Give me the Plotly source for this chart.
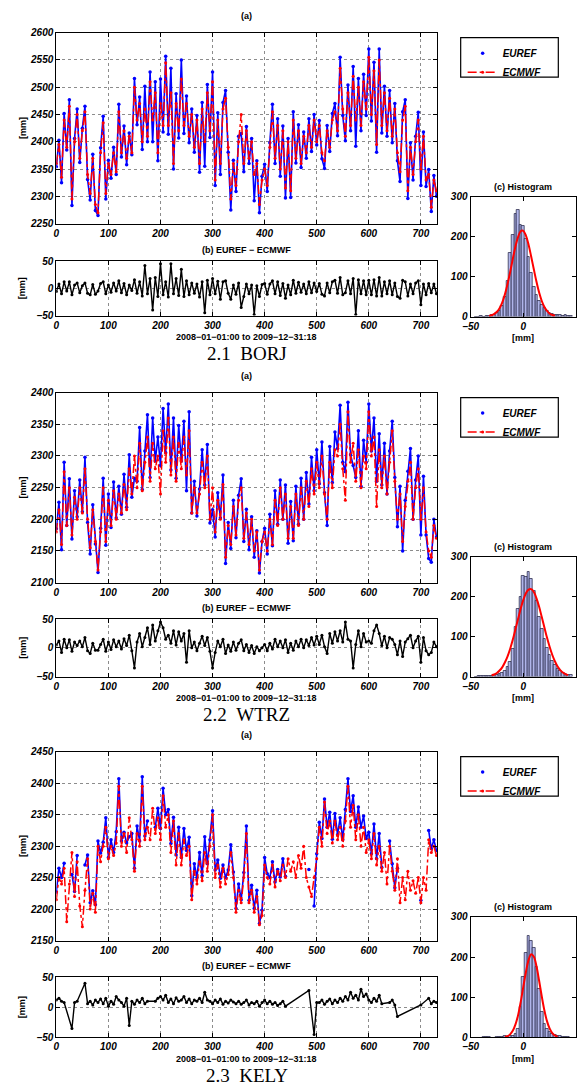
import plotly.graph_objects as go

W, H = 581, 1088
STEP = 5  # days between readings

TIME_LABEL = "2008\u221201\u221201:00 to 2009\u221212\u221231:18"
X_TICKS = [0, 100, 200, 300, 400, 500, 600, 700]
DIFF_TICKS = [-50, 0, 50]
HIST_TICKS_X = [-50, 0, 50]
HIST_TICKS_Y = [0, 100, 200, 300]

# ---------------- BORJ ----------------
borj_ecmwf = [
    2360, 2395, 2335, 2440, 2390, 2465, 2295, 2400, 2450, 2370,
    2420, 2455, 2340, 2305, 2370, 2285, 2270, 2380, 2435, 2305,
    2360, 2340, 2380, 2345, 2455, 2380, 2420, 2370, 2410, 2380,
    2500, 2440, 2470, 2400, 2460, 2410, 2510, 2440, 2490, 2380,
    2470, 2430, 2545, 2430, 2490, 2360, 2470, 2420, 2515, 2430,
    2470, 2410, 2450, 2390, 2440, 2360, 2460, 2400, 2490, 2420,
    2510, 2330, 2440, 2360, 2460, 2480, 2390, 2295, 2360, 2320,
    2400, 2450, 2360, 2420, 2370, 2400, 2340, 2360, 2285, 2330,
    2350, 2320, 2390, 2455, 2370, 2430, 2350, 2420, 2315, 2400,
    2310, 2440, 2370, 2420, 2360, 2410, 2380, 2430, 2390, 2440,
    2400, 2430, 2380, 2365, 2420, 2390, 2440, 2455, 2420, 2535,
    2460, 2410, 2490, 2430, 2520, 2440, 2500, 2430, 2510, 2460,
    2555, 2450, 2530, 2395, 2550, 2430, 2490, 2420, 2480, 2410,
    2460, 2380, 2345, 2440, 2465, 2310, 2390, 2340, 2400, 2440,
    2350, 2410, 2330, 2340, 2280, 2330, 2310,
]
borj_diff = [
    -6, 8, -10, 12, -5, 12, -12, 6, 10, -8,
    5, 10, -9, -12, 7, -11, -5, 9, 12, -10,
    6, -7, 10, -5, 14, -8, 9, -12, 6, -4,
    16, -9, 12, -14, 42, -10, 18, -40, 20, -15,
    45, -12, 12, -16, 45, -10, 18, -13, 35, -15,
    14, -12, 10, -9, 8, -16, 12, -45, 15, -12,
    18, -10, 13, -20, 12, 14, -9, -20, 6, -11,
    10, -35, -15, 8, -10, 6, -48, 5, -15, 7,
    9, -11, 8, 14, -10, 12, -13, 9, -18, 6,
    -12, 15, -9, 11, -7, 8, -10, 12, -8, 10,
    -6, 9, -11, -14, 10, -8, 12, 15, -9, 20,
    -12, -8, 14, -10, 18, -48, 16, -10, 14, -12,
    15, -12, 16, -14, 20, -14, 12, -10, 14, -12,
    10, -15, -18, 15, 12, -14, 8, -10, 10, 14,
    -30, 8, -12, 9, -8, 8, -10,
]
borj_hist = [
    0, 0, 1, 0, 1, 2, 3, 5, 8, 15,
    28, 50, 90, 160, 205, 258, 268, 230, 228, 195,
    150, 110, 75, 55, 40, 30, 22, 15, 10, 7,
    5, 4, 3, 2, 3, 2, 1,
]
borj_fit_x = [-32.5, -30, -27.5, -25, -22.5, -20, -17.5, -15, -12.5, -10, -7.5, -5, -2.5,
              0, 2.5, 5, 7.5, 10, 12.5, 15, 17.5, 20, 22.5, 25, 27.5, 30]
borj_fit_y = [1.5, 3.2, 6.5, 12, 21, 35, 55, 81, 111, 144, 175, 199, 214,
              215, 203, 180, 150, 118, 87, 60, 39, 24, 14, 7, 4, 2]

# ---------------- WTRZ ----------------
wtrz_ecmwf = [
    2180, 2215, 2160, 2275, 2190, 2250, 2175, 2235, 2200, 2250,
    2210, 2280, 2200, 2155, 2215, 2165, 2120, 2180, 2250, 2165,
    2230, 2190, 2245, 2200, 2240, 2210, 2255, 2215, 2280, 2240,
    2300, 2250, 2320, 2245, 2290, 2330, 2260, 2320, 2280, 2300,
    2240, 2340, 2290, 2360, 2270, 2330, 2260, 2320, 2280, 2330,
    2270, 2340, 2210, 2250, 2210, 2240, 2290, 2250, 2300, 2200,
    2250, 2180, 2230, 2200, 2255, 2140, 2190, 2160, 2220, 2175,
    2230, 2250, 2170, 2210, 2160, 2200, 2150, 2180, 2120, 2165,
    2180, 2150, 2200, 2160, 2230, 2190, 2250, 2200, 2240, 2170,
    2220, 2170, 2240, 2190, 2250, 2200, 2260, 2220, 2280, 2240,
    2290, 2250, 2300, 2240, 2200, 2290, 2250, 2310, 2300, 2350,
    2280, 2230, 2370, 2290, 2320, 2260, 2310, 2250, 2300, 2280,
    2370, 2300, 2330, 2220, 2310, 2250, 2300, 2240, 2290, 2340,
    2260, 2200, 2240, 2165, 2220, 2260, 2290, 2200, 2250, 2280,
    2200, 2250, 2180, 2150, 2140, 2190, 2170,
]
wtrz_diff = [
    5, 12, -8, 15, 0, 14, -6, 10, 4, 12,
    2, 18, -5, -10, 8, -4, -4, 6, 15, -6,
    10, -3, 14, 2, 12, -2, 16, 4, 22, -5,
    -35, 10, 25, 2, 18, 35, 6, 40, 12, 30,
    45, 35, 15, 22, 8, 30, 5, 28, 12, 25,
    -25, 30, 0, 10, -5, 8, 20, 4, 18, -6,
    -35, -8, 12, 2, 15, -10, 5, -6, 10, -4,
    8, 14, -5, 6, -8, 4, -10, 2, -5, 0,
    6, -5, 8, -2, 15, 2, 12, 0, 14, -8,
    8, -4, 12, 2, 15, 0, 14, 4, 18, 5,
    20, 6, 22, 2, -10, 25, 8, 28, 12, 30,
    10, 45, 15, 12, -35, 6, 30, 2, 25, 10,
    12, 8, 30, 40, 25, 4, 20, 0, 18, 15,
    6, -12, 12, -15, 10, 16, 22, 0, 12, 20,
    -25, 18, -5, -12, -8, 10, 2,
]
wtrz_hist = [
    0, 1, 1, 1, 2, 1, 2, 3, 4, 6,
    9, 15, 25, 38, 70, 125, 170, 200, 252, 250,
    262, 245, 215, 190, 150, 120, 95, 72, 55, 40,
    30, 20, 14, 9, 7, 5, 4,
]
wtrz_fit_x = [-30, -27.5, -25, -22.5, -20, -17.5, -15, -12.5, -10, -7.5, -5, -2.5, 0,
              2.5, 5, 7.5, 10, 12.5, 15, 17.5, 20, 22.5, 25, 27.5, 30, 32.5, 35,
              37.5, 40, 42.5]
wtrz_fit_y = [3, 5, 9, 15, 23, 35, 50, 69, 92, 118, 144, 170, 192,
              209, 218, 219, 212, 196, 175, 149, 123, 97, 74, 54, 38, 25, 16,
              10, 6, 3.5]

# ---------------- KELY ----------------
kely_ecmwf = [
    2215, 2250, 2240, 2265, 2180, 2240, 2290, 2220, 2275, 2205,
    2172, 2230, 2280, 2200, 2225, 2195, 2300, 2275, 2300, 2330,
    2280, 2300, 2285, 2305, 2395, 2300, 2320, 2290, 2345, 2310,
    2260, 2320, 2300, 2395, 2310, 2330, 2310, 2360, 2320, 2345,
    2310, 2380, 2330, 2350, 2290, 2340, 2270, 2320, 2270, 2310,
    2285, 2300, 2215, 2260, 2240, 2275, 2245, 2290, 2260, 2300,
    2350, 2250, 2270, 2235, 2265, 2240, 2255, 2290, 2250, 2195,
    2230, 2210, 2250, 2320, 2210, 2230, 2195, 2220, 2175, 2190,
    2270, 2250, 2240, 2270, 2235, 2260, 2245, 2270, 2250, 2280,
    2260, 2275, 2250, 2285, 2265, 2300, 2250, 2235, 2220, 2250,
    2280, 2330, 2300, 2370, 2320, 2340, 2305, 2340, 2310, 2330,
    2300, 2340, 2395, 2330, 2365, 2310, 2350, 2300, 2330, 2290,
    2310, 2280, 2320, 2270, 2300, 2260, 2290, 2240, 2300, 2260,
    2230, 2280, 2210, 2250, 2215, 2260, 2230, 2245, 2225, 2250,
    2210, 2250, 2230, 2310, 2290, 2300, 2285,
]
kely_diff = [
    12, 15, 10, 8, None, None, -35, 8, 10, None,
    None, 40, 6, 10, 4, 12, 8, 14, 6, 15,
    2, 10, 5, 18, 12, 8, 2, 15, -30, 10,
    5, 12, 8, 15, 6, 10, None, None, 10, 15,
    18, 12, 20, 8, 14, 6, 16, 10, 12, 18,
    8, 14, 6, 12, 10, 15, 8, 25, 12, 10,
    6, 12, 8, 14, 5, 10, 7, 12, 9, 6,
    10, 5, 8, 12, 4, 8, 6, 10, 2, 8,
    12, 6, 10, 5, 8, 3, 6, 10, 2, None,
    None, None, None, None, None, None, None, 28, None, -45,
    8, 8, 12, 5, 10, 14, 6, 12, 8, 15,
    10, 18, 12, 25, 15, 20, 12, 30, 18, 22,
    12, 8, 15, 10, 20, 6, None, None, 8, 12,
    4, -15, None, None, None, None, None, None, None, None,
    4, None, None, 15, 6, 10, 8,
]
kely_hist = [
    0, 0, 0, 1, 2, 1, 0, 0, 1, 1,
    2, 3, 2, 3, 5, 9, 22, 75, 150, 210,
    253, 240, 222, 175, 120, 65, 35, 22, 15, 10,
    6, 4, 3, 2, 2, 1, 0,
]
kely_fit_x = [-17.5, -15, -12.5, -10, -7.5, -5, -2.5, 0, 2.5, 5, 7.5, 10, 12.5,
              15, 17.5, 20, 22.5, 25, 27.5, 30, 32.5]
kely_fit_y = [1.3, 3.3, 7.8, 16.5, 32, 55, 88, 126, 163, 193, 207, 201, 177,
              141, 102, 67, 40, 22, 11, 5, 2]

HIST_CENTERS = [-45 + 2.5 * i for i in range(len(borj_hist))]
HIST_WIDTH = 2.5

stations = [
    dict(num="2.1", name="BORJ", ecmwf=borj_ecmwf, diff=borj_diff, hist=borj_hist,
         fx=borj_fit_x, fy=borj_fit_y, yr=[2250, 2600]),
    dict(num="2.2", name="WTRZ", ecmwf=wtrz_ecmwf, diff=wtrz_diff, hist=wtrz_hist,
         fx=wtrz_fit_x, fy=wtrz_fit_y, yr=[2100, 2400]),
    dict(num="2.3", name="KELY", ecmwf=kely_ecmwf, diff=kely_diff, hist=kely_hist,
         fx=kely_fit_x, fy=kely_fit_y, yr=[2150, 2450]),
]

# ---------------- layout geometry (pixels) ----------------
geom = [
    dict(a=(27, 220), b=(258, 313), h=(193, 314)),
    dict(a=(391, 583), b=(620, 678), h=(557, 678)),
    dict(a=(754, 945), b=(982, 1043), h=(921, 1043)),
]
TS_X = (49, 435)
HI_X = (469, 576)
LEG_X = (459, 558)

BLUE = "#0000ff"
RED = "#ff0000"
FONT = "Arial, Liberation Sans, Helvetica, sans-serif"
tickfont = dict(family=FONT, size=10, color="black", weight="bold", style="italic")


def px(x):
    return x / W


def py(y):
    return 1 - y / H


def xdom(a):
    return [a[0] / W, a[1] / W]


def ydom(a):
    return [1 - a[1] / H, 1 - a[0] / H]


def axis_style(**kw):
    d = dict(showline=True, linecolor="black", linewidth=1, mirror="ticks",
             ticks="inside", ticklen=4, tickcolor="black", tickfont=tickfont,
             zeroline=False, showgrid=True, gridcolor="#8c8c8c", griddash="dot",
             gridwidth=1, tickmode="array", ticklabelstandoff=0)
    d.update(kw)
    return d


fig = go.Figure()
layout = {}
annotations = []
shapes = []

for p, (st, g) in enumerate(zip(stations, geom)):
    ia, ib, ih = 3 * p + 1, 3 * p + 2, 3 * p + 3
    days = [STEP * i for i in range(len(st["ecmwf"]))]
    euref = [None if d is None else e + d for e, d in zip(st["ecmwf"], st["diff"])]
    legname = "legend" if p == 0 else f"legend{p + 1}"

    def nm(i, axis):
        return axis if i == 1 else f"{axis}{i}"

    # EUREF: dense band of blue readings (band outline + dots)
    fig.add_trace(go.Scatter(
        x=days, y=euref, mode="lines", showlegend=False, hoverinfo="skip",
        line=dict(color=BLUE, width=1.6), connectgaps=False,
        xaxis=nm(ia, "x"), yaxis=nm(ia, "y")))
    fig.add_trace(go.Scatter(
        x=days, y=euref, mode="markers", name="EUREF",
        marker=dict(color=BLUE, size=3.5, line=dict(width=0)),
        xaxis=nm(ia, "x"), yaxis=nm(ia, "y"), legend=legname))
    fig.add_trace(go.Scatter(
        x=days, y=st["ecmwf"], mode="lines+markers", name="ECMWF",
        line=dict(color=RED, width=1.5, dash="dashdot"),
        marker=dict(color=RED, size=3),
        xaxis=nm(ia, "x"), yaxis=nm(ia, "y"), legend=legname))
    fig.add_trace(go.Scatter(
        x=days, y=st["diff"], mode="lines+markers", showlegend=False,
        line=dict(color="black", width=1.4), connectgaps=True,
        marker=dict(color="black", size=3),
        xaxis=nm(ib, "x"), yaxis=nm(ib, "y")))
    fig.add_trace(go.Bar(
        x=HIST_CENTERS, y=st["hist"], width=HIST_WIDTH, showlegend=False,
        marker=dict(color="#b0b5ea", line=dict(color="#1c1c3c", width=0.7)),
        xaxis=nm(ih, "x"), yaxis=nm(ih, "y")))
    fig.add_trace(go.Scatter(
        x=st["fx"], y=st["fy"], mode="lines", showlegend=False,
        line=dict(color=RED, width=2, shape="spline"),
        xaxis=nm(ih, "x"), yaxis=nm(ih, "y")))

    yt = list(range(st["yr"][0], st["yr"][1] + 1, 50))
    layout[nm(ia, "xaxis")] = axis_style(domain=xdom(TS_X), range=[0, 731],
                                         tickvals=X_TICKS, anchor=nm(ia, "y"))
    layout[nm(ia, "yaxis")] = axis_style(domain=ydom(g["a"]), range=st["yr"],
                                         tickvals=yt, anchor=nm(ia, "x"))
    layout[nm(ib, "xaxis")] = axis_style(domain=xdom(TS_X), range=[0, 731],
                                         tickvals=X_TICKS, anchor=nm(ib, "y"))
    layout[nm(ib, "yaxis")] = axis_style(domain=ydom(g["b"]), range=[-50, 50],
                                         tickvals=DIFF_TICKS, anchor=nm(ib, "x"))
    layout[nm(ih, "xaxis")] = axis_style(domain=xdom(HI_X), range=[-50, 50],
                                         tickvals=HIST_TICKS_X, anchor=nm(ih, "y"),
                                         showgrid=False)
    layout[nm(ih, "yaxis")] = axis_style(domain=ydom(g["h"]), range=[0, 300],
                                         tickvals=HIST_TICKS_Y, anchor=nm(ih, "x"),
                                         showgrid=False)

    a0, a1 = g["a"]
    b0, b1 = g["b"]
    h0, h1 = g["h"]
    cx = (TS_X[0] + TS_X[1]) / 2
    hx = (HI_X[0] + HI_X[1]) / 2
    tfont = dict(family=FONT, size=9, color="black", weight="bold")
    for text, x, y in [("(a)", cx, a0 - 17), ("(b) EUREF \u2212 ECMWF", cx, b0 - 11),
                       ("(c) Histogram", hx, h0 - 10), (TIME_LABEL, cx, b1 + 22),
                       ("[mm]", hx, h1 + 22)]:
        annotations.append(dict(text=text, x=px(x), y=py(y), xref="paper", yref="paper",
                                showarrow=False, xanchor="center", yanchor="middle",
                                font=tfont))
    for yc in [(a0 + a1) / 2, (b0 + b1) / 2]:
        annotations.append(dict(text="[mm]", x=px(15), y=py(yc), xref="paper", yref="paper",
                                showarrow=False, textangle=-90, xanchor="center",
                                yanchor="middle", font=tfont))
    annotations.append(dict(text=f"{st['num']}\u00a0\u00a0{st['name']}", x=px(cx), y=py(b1 + 38),
                            xref="paper", yref="paper", showarrow=False, xanchor="center",
                            yanchor="middle",
                            font=dict(family="Liberation Serif, Times New Roman, serif",
                                      size=19, color="black")))
    shapes.append(dict(type="rect", xref="paper", yref="paper",
                       x0=px(LEG_X[0]), x1=px(LEG_X[1]), y0=py(a0 + 5), y1=py(a0 + 45),
                       line=dict(color="black", width=1.2), fillcolor="white", layer="below"))
    layout[legname] = dict(x=px(LEG_X[0] + 2), y=py(a0 + 6), xanchor="left", yanchor="top",
                           bgcolor="rgba(0,0,0,0)", borderwidth=0, itemwidth=30,
                           tracegroupgap=0,
                           font=dict(family=FONT, size=10, color="black",
                                     weight="bold", style="italic"))

fig.update_layout(width=W, height=H, margin=dict(l=0, r=0, t=0, b=0),
                  paper_bgcolor="white", plot_bgcolor="white",
                  showlegend=True, bargap=0, annotations=annotations, shapes=shapes,
                  **layout)

fig.write_html("out.html", config={"displayModeBar": False},
               post_script="document.body.style.margin='0';document.body.style.overflow='hidden';")
